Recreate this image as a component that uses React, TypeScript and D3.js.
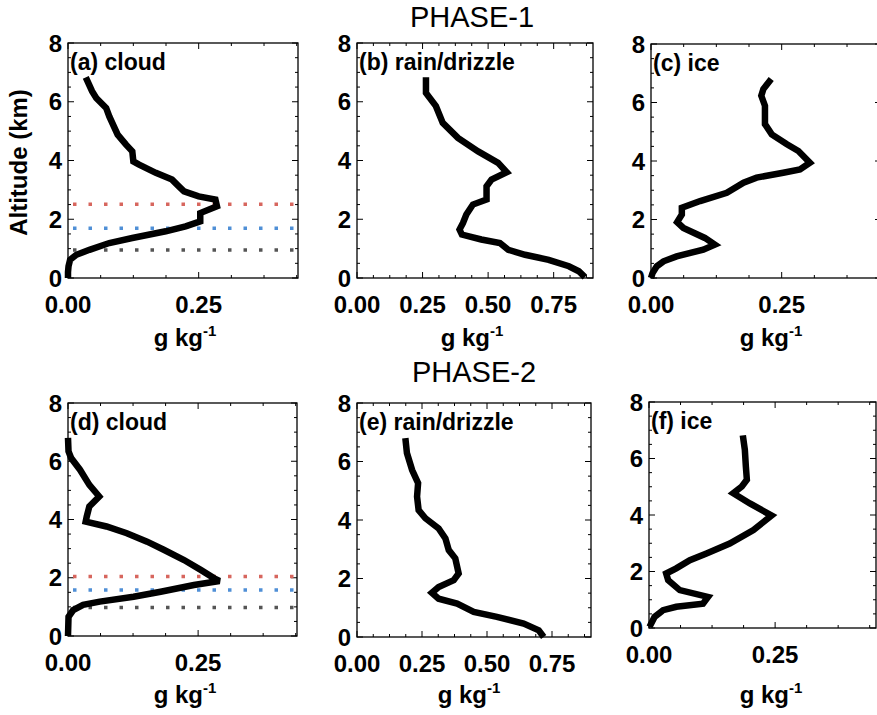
import React from 'react';
import * as d3 from 'd3';

// [mixing ratio (g/kg), altitude (km)]
const cloud1: [number, number][] = [[0.034,6.83],[0.046,6.36],[0.054,6.13],[0.073,5.79],[0.079,5.5],[0.095,4.88],[0.111,4.54],[0.123,4.31],[0.125,3.97],[0.136,3.86],[0.168,3.58],[0.199,3.35],[0.212,3.12],[0.222,2.95],[0.25,2.78],[0.282,2.67],[0.285,2.44],[0.253,2.21],[0.253,1.93],[0.225,1.76],[0.187,1.59],[0.123,1.36],[0.079,1.19],[0.041,0.96],[0.016,0.79],[0.004,0.62],[0.001,0.4],[0,0.2],[0,0]];
const rain1: [number, number][] = [[0.263,6.83],[0.263,6.3],[0.301,5.85],[0.327,5.28],[0.385,4.77],[0.462,4.31],[0.538,3.92],[0.571,3.6],[0.513,3.35],[0.494,3.12],[0.494,2.67],[0.442,2.5],[0.417,2.16],[0.404,1.87],[0.391,1.65],[0.4,1.48],[0.474,1.31],[0.545,1.19],[0.577,0.96],[0.641,0.79],[0.731,0.62],[0.808,0.4],[0.846,0.23],[0.869,0.03]];
const ice1: [number, number][] = [[0.23,6.8],[0.215,6.46],[0.211,6.23],[0.218,5.89],[0.218,5.26],[0.231,4.91],[0.26,4.57],[0.282,4.34],[0.304,3.94],[0.285,3.71],[0.253,3.6],[0.202,3.43],[0.177,3.26],[0.145,2.91],[0.094,2.63],[0.059,2.4],[0.059,2.17],[0.05,1.91],[0.062,1.71],[0.103,1.37],[0.122,1.14],[0.1,0.97],[0.049,0.74],[0.024,0.57],[0.011,0.4],[0.003,0.17],[0,0]];
const cloud2: [number, number][] = [[0,6.8],[0.001,6.34],[0.006,6.11],[0.023,5.71],[0.041,5.19],[0.06,4.79],[0.041,4.45],[0.036,4.1],[0.034,3.93],[0.074,3.76],[0.113,3.53],[0.152,3.24],[0.184,2.96],[0.223,2.61],[0.255,2.27],[0.281,1.98],[0.291,1.89],[0.242,1.75],[0.178,1.52],[0.126,1.35],[0.061,1.18],[0.029,1.07],[0.01,0.89],[0.001,0.66],[0,0]];
const rain2: [number, number][] = [[0.186,6.8],[0.192,6.29],[0.212,5.71],[0.235,5.26],[0.231,4.8],[0.237,4.34],[0.263,4.06],[0.314,3.71],[0.34,3.37],[0.353,2.97],[0.378,2.69],[0.391,2.17],[0.372,1.94],[0.314,1.71],[0.288,1.51],[0.314,1.31],[0.385,1.14],[0.449,0.86],[0.538,0.69],[0.641,0.46],[0.699,0.23],[0.718,0]];
const ice2: [number, number][] = [[0.186,6.82],[0.19,6.31],[0.192,5.72],[0.194,5.25],[0.184,5.01],[0.167,4.77],[0.2,4.41],[0.243,3.98],[0.207,3.47],[0.16,2.99],[0.114,2.64],[0.081,2.4],[0.054,2.11],[0.034,1.93],[0.038,1.69],[0.061,1.34],[0.117,1.1],[0.107,0.86],[0.054,0.75],[0.028,0.63],[0.011,0.39],[0.001,0.04]];

// reference levels (km)
const refLevels1 = [2.51, 1.69, 0.95];
const refLevels2 = [2.04, 1.58, 0.98];
const refColors = ['#d7665e', '#4f8fd6', '#555555'];

const yTicks = [0, 2, 4, 6, 8];
const xTicksNarrow = [0, 0.25];
const xTicksWide = [0, 0.25, 0.5, 0.75];
const titles = ['PHASE-1', 'PHASE-2'];

const FONT = '"Liberation Sans", Arial, Helvetica, sans-serif';

type Panel = {
  label: string; data: [number, number][]; left: number; top: number; width: number; height: number;
  xMax: number; xTicks: number[]; unitX: number; unitY: number; refs?: number[]; yLabel?: boolean;
};

const panels: Panel[] = [
  { label: '(a) cloud', data: cloud1, left: 68, top: 43, width: 230, height: 235, xMax: 0.44, xTicks: xTicksNarrow, unitX: 185, unitY: 346, refs: refLevels1, yLabel: true },
  { label: '(b) rain/drizzle', data: rain1, left: 357, top: 43, width: 236, height: 235, xMax: 0.9, xTicks: xTicksWide, unitX: 472, unitY: 346 },
  { label: '(c) ice', data: ice1, left: 651, top: 44, width: 230, height: 234, xMax: 0.44, xTicks: xTicksNarrow, unitX: 771, unitY: 346 },
  { label: '(d) cloud', data: cloud2, left: 68, top: 403, width: 229, height: 233, xMax: 0.44, xTicks: xTicksNarrow, unitX: 185, unitY: 703, refs: refLevels2 },
  { label: '(e) rain/drizzle', data: rain2, left: 357, top: 403, width: 234, height: 234, xMax: 0.9, xTicks: xTicksWide, unitX: 469, unitY: 703 },
  { label: '(f) ice', data: ice2, left: 649, top: 402, width: 227, height: 226, xMax: 0.45, xTicks: xTicksNarrow, unitX: 771, unitY: 703 },
];

function PanelView({ p }: { p: Panel }) {
  const x = d3.scaleLinear().domain([0, p.xMax]).range([p.left, p.left + p.width]);
  const y = d3.scaleLinear().domain([0, 8]).range([p.top + p.height, p.top]);
  const line = d3.line<[number, number]>().x(d => x(d[0])).y(d => y(d[1]));
  const yMinor = d3.range(0, 8.001, 0.5);
  const xMinor = d3.range(0, p.xMax + 1e-9, 0.0625);
  const bottom = p.top + p.height;
  const right = p.left + p.width;
  return (
    <g>
      <rect x={p.left} y={p.top} width={p.width} height={p.height} fill="none" stroke="#000" strokeWidth={1.3} />
      {yMinor.map((v, i) => {
        const len = Math.abs(v % 2) < 1e-9 ? 6 : 3;
        return (
          <g key={'y' + i}>
            <line x1={p.left} x2={p.left + len} y1={y(v)} y2={y(v)} stroke="#000" strokeWidth={1} />
            <line x1={right} x2={right - len} y1={y(v)} y2={y(v)} stroke="#000" strokeWidth={1} />
          </g>
        );
      })}
      {xMinor.map((v, i) => {
        const len = Math.abs((v / 0.25) - Math.round(v / 0.25)) < 1e-6 ? 6 : 3;
        return (
          <g key={'x' + i}>
            <line x1={x(v)} x2={x(v)} y1={bottom} y2={bottom - len} stroke="#000" strokeWidth={1} />
            <line x1={x(v)} x2={x(v)} y1={p.top} y2={p.top + len} stroke="#000" strokeWidth={1} />
          </g>
        );
      })}
      {yTicks.map(v => (
        <text key={'yl' + v} x={p.left - 6} y={y(v)} dy="0.36em" textAnchor="end" fontSize={24} fontWeight="bold" fontFamily={FONT}>{v}</text>
      ))}
      {p.xTicks.map(v => (
        <text key={'xl' + v} x={x(v)} y={bottom + 35} textAnchor="middle" fontSize={24} fontWeight="bold" fontFamily={FONT}>{d3.format('.2f')(v)}</text>
      ))}
      {p.refs && p.refs.map((lv, i) => (
        <line key={'r' + i} x1={p.left + 5} x2={right - 2} y1={y(lv)} y2={y(lv)} stroke={refColors[i]} strokeWidth={3.5} strokeDasharray="3.5 12" />
      ))}
      <path d={line(p.data) || ''} fill="none" stroke="#000" strokeWidth={6.5} strokeLinejoin="miter" strokeMiterlimit={3} />
      <text x={p.left + 2} y={p.top + 27} fontSize={23} fontWeight="bold" fontFamily={FONT}>{p.label}</text>
      <text x={p.unitX} y={p.unitY} textAnchor="middle" fontSize={24} fontWeight="bold" fontFamily={FONT}>
        g kg<tspan fontSize={15} dy={-10}>-1</tspan>
      </text>
      {p.yLabel && (
        <text transform={`translate(27,${(p.top + bottom) / 2 + 2}) rotate(-90)`} textAnchor="middle" fontSize={24} fontWeight="bold" fontFamily={FONT}>Altitude (km)</text>
      )}
    </g>
  );
}

export default function App() {
  return (
    <svg width={877} height={715} style={{ position: 'absolute', left: 0, top: 0, background: '#fff' }}>
      <rect width={877} height={715} fill="#fff" />
      <text x={472} y={27} textAnchor="middle" fontSize={29} fontFamily={FONT}>{titles[0]}</text>
      <text x={474} y={382} textAnchor="middle" fontSize={29} fontFamily={FONT}>{titles[1]}</text>
      {panels.map((p, i) => <PanelView key={i} p={p} />)}
    </svg>
  );
}
